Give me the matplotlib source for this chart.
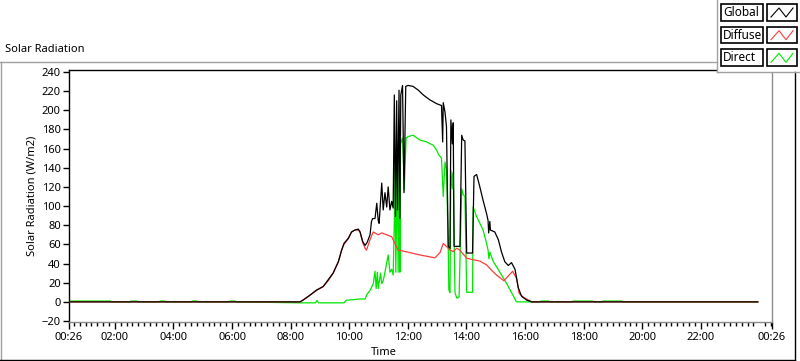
import numpy as np
import matplotlib.pyplot as plt
from matplotlib.lines import Line2D
from matplotlib.patches import Rectangle

plt.rcParams['font.family'] = ['Noto Sans', 'DejaVu Sans']
plt.rcParams['font.size'] = 8

# time of day in hours, values in W/m2
global_t = [0.43, 8.32, 8.43, 8.66, 8.89, 9.11, 9.28, 9.45, 9.63, 9.74, 9.82, 9.97,
            10.08, 10.19, 10.31, 10.37, 10.46, 10.54, 10.61, 10.71, 10.76, 10.80, 10.88,
            10.94, 10.99, 11.02, 11.11, 11.16, 11.22, 11.28, 11.33, 11.39, 11.45, 11.50,
            11.54, 11.58, 11.62, 11.65, 11.70, 11.73, 11.76, 11.82, 11.87, 11.93, 12.01,
            12.18, 12.36, 12.53, 12.75, 12.98, 13.15, 13.19, 13.21, 13.27, 13.32, 13.38,
            13.44, 13.47, 13.52, 13.55, 13.58, 13.67, 13.78, 13.84, 13.89, 13.95, 14.01,
            14.12, 14.21, 14.26, 14.35, 14.46, 14.57, 14.69, 14.74, 14.76, 14.80, 14.82,
            14.97, 15.09, 15.20, 15.31, 15.43, 15.54, 15.66, 15.77, 15.88, 16.05, 16.23,
            23.95]
global_v = [0, 0, 2, 7, 12.5, 16, 23, 30, 42, 54, 61, 66.5,
            73, 75, 76, 73, 63, 59, 62, 70, 84, 87, 87,
            103, 85, 82, 124, 96, 114, 99, 120, 96, 105, 98,
            216, 89, 210, 96, 221, 87, 216, 226, 114, 225, 226,
            225, 221, 216, 211, 207, 205, 167, 208, 198, 183, 58,
            56, 190, 165, 187, 58, 58, 58, 174, 169, 168, 51,
            51, 51, 131, 133, 120, 106, 92, 85, 72, 84, 75,
            73, 65, 52, 42, 38, 41, 34, 15, 6, 2, 0,
            0]

diffuse_t = [0.43, 8.32, 8.43, 8.66, 8.89, 9.11, 9.28, 9.45, 9.63, 9.74, 9.82, 9.97,
             10.08, 10.19, 10.31, 10.37, 10.46, 10.54, 10.59, 10.71, 10.82, 10.99, 11.11,
             11.28, 11.45, 11.56, 11.67, 11.84, 12.07, 12.41, 12.75, 12.93, 13.10, 13.21,
             13.32, 13.44, 13.55, 13.67, 13.78, 14.01, 14.23, 14.46, 14.69, 14.86, 15.03,
             15.28, 15.43, 15.58, 15.72, 15.80, 15.94, 16.23, 23.95]
diffuse_v = [0, 0, 2, 7, 12, 16, 22, 30, 42, 54, 60, 66,
             73, 75, 75, 73, 62, 56, 54, 65, 73, 70, 72,
             70, 68, 61, 54, 53, 51.5, 49, 47, 46, 51.5, 61,
             58, 54, 52.5, 56, 54, 45.6, 44, 42.6, 38.6, 33, 28,
             22, 27, 32, 24, 9, 5, 0, 0]

direct_t = [0.43, 1.85, 1.90, 2.50, 2.55, 2.75, 2.80, 3.50, 3.55, 3.70, 3.75, 4.60,
            4.65, 4.80, 4.85, 5.90, 5.95, 6.10, 6.15, 8.30, 8.85, 8.90, 8.95, 9.82,
            9.90, 10.37, 10.54, 10.61, 10.71, 10.82, 10.88, 10.92, 10.96, 10.99, 11.07,
            11.11, 11.16, 11.22, 11.33, 11.39, 11.45, 11.50, 11.54, 11.56, 11.59, 11.64,
            11.67, 11.71, 11.73, 11.75, 11.82, 11.88, 11.94, 12.01, 12.18, 12.41, 12.64,
            12.87, 12.98, 13.04, 13.15, 13.21, 13.27, 13.32, 13.38, 13.40, 13.44, 13.47,
            13.52, 13.55, 13.61, 13.67, 13.75, 13.84, 13.89, 13.95, 14.01, 14.21, 14.23,
            14.35, 14.57, 14.69, 14.74, 14.77, 14.80, 14.92, 15.09, 15.37, 15.71, 16.50,
            16.55, 16.80, 16.85, 17.60, 17.65, 18.30, 18.35, 18.60, 18.65, 19.30, 19.35,
            23.95]
direct_v = [0.9, 0.9, 0, 0, 0.9, 0.9, 0, 0, 0.9, 0.9, 0, 0,
            0.9, 0.9, 0, 0, 0.9, 0.9, 0, -1, -1, 1.5, -1, -1,
            1.7, 3, 3, 8, 12, 19, 32, 14, 31, 14, 30,
            19, 22, 31, 49, 31, 34, 28, 84, 152, 31, 141,
            31, 166, 31, 165, 171, 117, 171, 172.6, 174, 169, 167,
            163.5, 158.6, 154.5, 150, 110, 146, 138, 58, 12.5, 9.7, 137,
            118, 135, 9.7, 4, 5, 118, 112, 110, 10, 10, 99,
            89, 75, 61, 54, 45, 52, 42, 33.6, 19.5, 0, 0,
            0.9, 0.9, 0, 0, 0.9, 0.9, 0, 0, 0.9, 0.9, 0,
            0]

series_names = ['Global', 'Diffuse', 'Direct']
series_colors = ['black', '#ff3b3b', '#00e600']

W, H = 800, 361


def fx(px):
    return px / W


def fy(py):
    return 1 - py / H


def hhmm(h):
    m = int(round(h * 60))
    return f"{(m // 60) % 24:02d}:{m % 60:02d}"


fig = plt.figure(figsize=(W / 100, H / 100), dpi=100)
fig.patch.set_facecolor('white')

# plot area
ax = fig.add_axes([fx(69), fy(322), (772 - 69) / W, (322 - 70) / H])
ax.plot(direct_t, direct_v, color=series_colors[2], lw=0.9, zorder=2)
ax.plot(diffuse_t, diffuse_v, color=series_colors[1], lw=0.9, zorder=3)
ax.plot(global_t, global_v, color=series_colors[0], lw=0.9, zorder=4)

start = 26 / 60
ax.set_xlim(start, start + 24)
ax.set_ylim(-21.0, 242.1)

major = [start] + list(range(2, 24, 2)) + [start + 24]
ax.set_xticks(major)
ax.set_xticklabels([hhmm(h) for h in major])
minor = [m / 60 for m in range(36, 24 * 60 + 26, 12) if m % 120 != 0]
ax.set_xticks(minor, minor=True)
ax.set_yticks(np.arange(-20, 241, 20))

ax.tick_params(axis='x', which='major', length=5, width=1, direction='out', pad=2)
ax.tick_params(axis='x', which='minor', length=3, width=1, direction='out')
ax.tick_params(axis='y', which='major', length=4, width=1, direction='out', pad=2)

for side in ['left', 'top']:
    ax.spines[side].set_color('black')
    ax.spines[side].set_linewidth(1)
for side in ['right', 'bottom']:
    ax.spines[side].set_color('#8c8c8c')
    ax.spines[side].set_linewidth(1)

ax.set_ylabel('Solar Radiation (W/m2)')
ax.yaxis.set_label_coords(-31 / 703, 0.5)
ax.set_xlabel('Time')
ax.xaxis.set_label_coords((384 - 69) / 703, -25 / 252)

# chart panel frame and caption
fig.text(fx(5), fy(50), 'Solar Radiation', ha='left', va='center')
fig.add_artist(Line2D([fx(0), fx(717)], [fy(62), fy(62)], color='#a0a0a0', lw=1))
fig.add_artist(Line2D([fx(1), fx(1)], [fy(62), fy(360)], color='#a0a0a0', lw=1))
fig.add_artist(Line2D([fx(0), fx(795)], [fy(359.5), fy(359.5)], color='black', lw=1))
fig.add_artist(Line2D([fx(794.5), fx(794.5)], [fy(72), fy(360)], color='black', lw=1))

# legend panel
fig.add_artist(Rectangle((fx(717), fy(72)), (800 - 717) / W, 72 / H,
                         facecolor='white', edgecolor='none'))
fig.add_artist(Line2D([fx(717), fx(717)], [fy(0), fy(72)], color='#a0a0a0', lw=1))
fig.add_artist(Line2D([fx(717), fx(800)], [fy(72), fy(72)], color='#a0a0a0', lw=1))

row_tops = [4, 26.7, 49.3]
row_h = 16.7
for name, color, top in zip(series_names, series_colors, row_tops):
    fig.add_artist(Rectangle((fx(721), fy(top + row_h)), 42 / W, row_h / H,
                             facecolor='white', edgecolor='black', lw=1.2))
    fig.add_artist(Rectangle((fx(767), fy(top + row_h)), 30 / W, row_h / H,
                             facecolor='white', edgecolor='black', lw=1.2))
    fig.text(fx(723), fy(top + row_h / 2), name, ha='left', va='center', fontsize=8.5)
    zx = [771, 779, 786, 793]
    zy = [top + 13, top + 4, top + 13, top + 4]
    fig.add_artist(Line2D([fx(v) for v in zx], [fy(v) for v in zy], color=color, lw=0.8))

fig.savefig('out.png', dpi=100)
